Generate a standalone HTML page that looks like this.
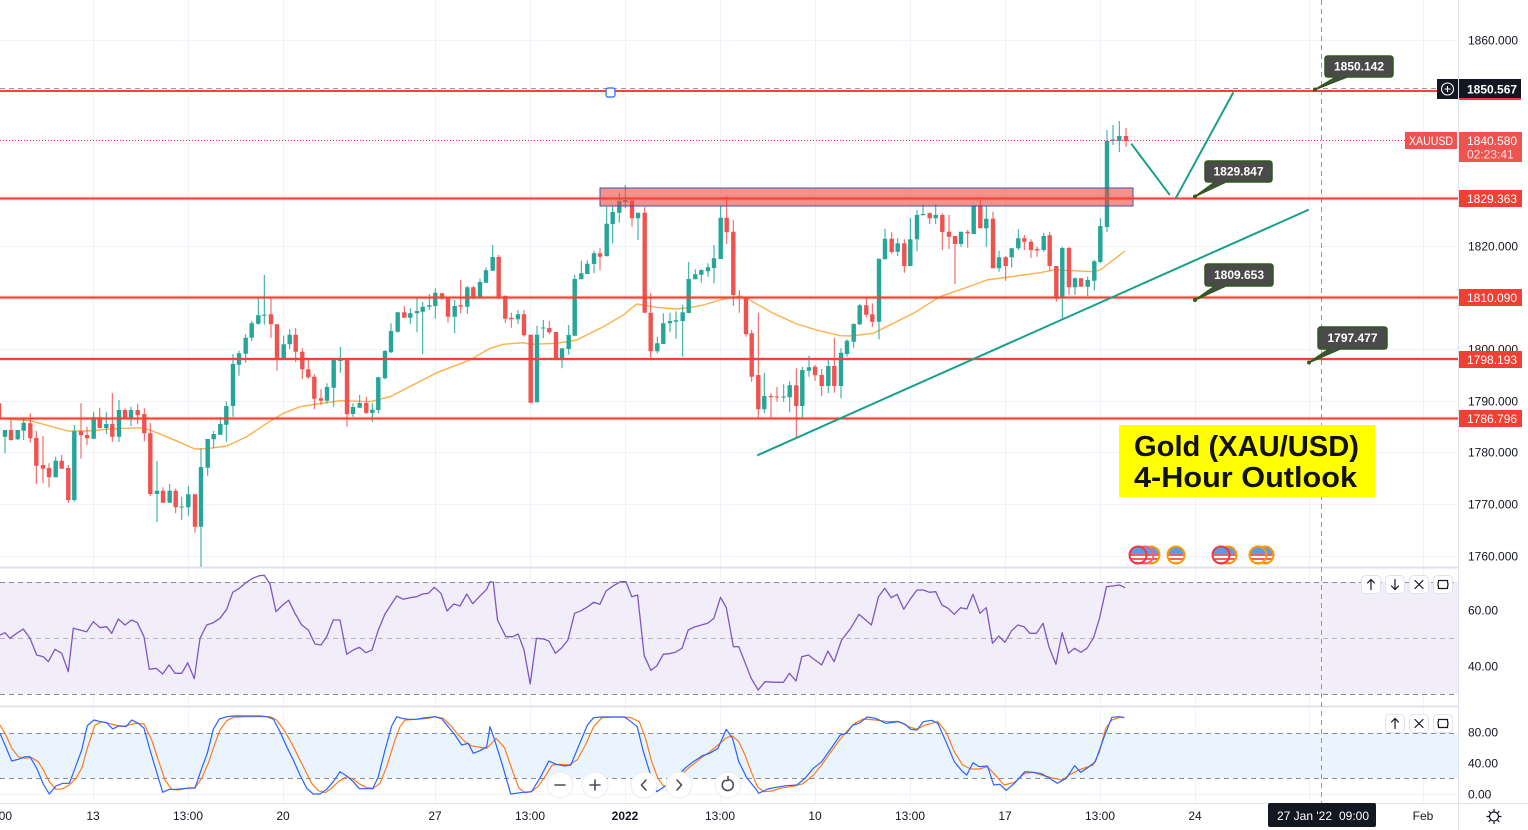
<!DOCTYPE html>
<html><head><meta charset="utf-8"><style>
html,body{margin:0;padding:0;background:#fff;}
svg{display:block;font-family:"Liberation Sans",Arial,sans-serif;}
</style></head><body>
<svg width="1528" height="830" viewBox="0 0 1528 830" xmlns="http://www.w3.org/2000/svg">
<defs>
<clipPath id="fc"><circle cx="0" cy="0" r="8"/></clipPath>
<g id="fl"><g clip-path="url(#fc)"><rect x="-9" y="-9" width="18" height="18" fill="#fff"/><rect x="-9" y="-5" width="18" height="2" fill="#f0645a"/><rect x="-9" y="-1" width="18" height="2" fill="#f0645a"/><rect x="-9" y="3" width="18" height="2" fill="#f0645a"/><rect x="-9" y="7" width="18" height="2" fill="#f0645a"/><rect x="-9" y="-9" width="18" height="8" fill="#5a9be6"/></g></g>
</defs>
<rect width="1528" height="830" fill="#fff"/>
<!-- grid -->
<g stroke="#f0f3fa" stroke-width="1">
<path d="M0 40.5H1458M0 91.5H1458M0 143.5H1458M0 195.5H1458M0 246.5H1458M0 298.5H1458M0 349.5H1458M0 401.5H1458M0 452.5H1458M0 504.5H1458M0 556.5H1458M0 610.5H1458M0 666.5H1458M0 763.5H1458M0 794.5H1458"/>
<path d="M93.5 0V803M188.5 0V803M283.5 0V803M435.5 0V803M530.5 0V803M625.5 0V803M720.5 0V803M815.5 0V803M910.5 0V803M1005.5 0V803M1100.5 0V803M1195.5 0V803M1309.5 0V803M1423.5 0V803"/>
</g>
<!-- RSI panel -->
<rect x="0" y="582" width="1458" height="112" fill="#f2eef9"/>
<g stroke="#8a8d96" stroke-width="1" stroke-dasharray="5 4" fill="none">
<path d="M0 582.5H1458M0 694.5H1458"/>
<path d="M0 638.5H1458" stroke="#b4b6bd"/>
</g>
<polyline fill="none" stroke="#7e57c2" stroke-width="1.3" stroke-linejoin="round" points="0,635 5,632.7 10,638.3 16.7,633.3 23.3,629 30,638.3 36.7,655 43.3,656.7 48.3,661.7 55,649.3 61.7,653.3 68.3,671.7 73.3,628.3 80,630 86.7,631.7 93.3,621.7 100,627.7 106.7,626.7 111.7,633.3 118.3,619 125,625 131.7,620 137.3,622.7 144,636.7 149.3,669.3 156,668.3 162.7,674 169,665 175,673.3 181.7,673.3 187.7,662.7 194.3,678.7 200,638.3 206.7,625 213.3,622.7 220,618.3 226.7,609.3 232.7,592.3 239.3,588.3 246,582.7 252.7,578.3 259.3,575.7 264.3,575.3 270,584 276,611.7 282.7,605 288.7,600.3 295,613.3 301.7,625 308.3,630 315,644 321,645 326.7,636.7 333.3,620 340,620 346.7,654.3 353.3,650 359.3,647.3 366,652.7 372,650 378.3,630 385,614 396.7,596 403.3,599.3 410,597.7 416.7,596.7 422.7,594 428.3,593.3 434.3,587.3 441,593.3 447,611 453.7,604 460,606 466.7,594 472.7,603.7 479.3,596.7 486.7,589.3 490,581.7 493.3,582.3 497.5,620 505.8,636.7 512.8,636.7 518.2,634 524,650 530.2,684 536.4,638.3 543.9,639 548.9,641 555.5,653.3 561.3,648.3 567.9,640 574.6,613.3 581.2,610.7 587.8,606.7 593.6,602.3 599.9,604.3 606.1,591 613.5,585.7 620.6,581.7 626,581.7 631.8,596.7 637.6,595 644.2,655.7 650.9,670.3 656.7,666 663.3,654.3 669.1,653.7 675.3,652.3 682,648.3 688.2,630 694.4,627 701.4,625 707.7,623.3 713.9,618.3 720.5,597.3 726.3,607.7 733.4,646.7 738.8,646.7 751.2,678.3 758.2,690 764.9,681.7 776.1,682.3 783.5,682.3 789.3,673.3 796,681 801.8,656.7 808.4,655 821.7,665 827.9,651 834.1,661.7 841.6,640 850.7,628.3 859,614.3 871.4,625 878.5,596.7 884.7,588.3 891.3,597.7 897.1,594.3 903.8,609.3 910.8,598.3 917,590 923.3,590 929.5,592.3 935.7,591.7 941.9,605 948.1,608.3 954.3,614.3 960.6,607.7 966.8,609 973,594.3 980,613.3 986.3,607.7 992.5,643.3 998.7,636 1004.9,642.3 1011.6,630.7 1017.8,625 1024,626.7 1029.8,633.3 1036.4,633.3 1043.1,623.3 1048.9,646.7 1055.9,664.3 1062.1,632.7 1068.4,653.3 1074.6,648.3 1080.8,652.3 1087,648.3 1093.6,637.7 1099.5,618.3 1106.5,586.7 1112.7,586 1119.4,585 1125.2,587.7"/>
<!-- Stoch panel -->
<rect x="0" y="733" width="1458" height="45" fill="#e9f4fe"/>
<path d="M0 733.5H1458M0 778.5H1458" stroke="#8a8d96" stroke-width="1" stroke-dasharray="5 4" fill="none"/>
<polyline fill="none" stroke="#ff7a1a" stroke-width="1.2" stroke-linejoin="round" points="0,725 5,733.3 11.7,748.3 18.3,756.7 25,758.3 31.7,757.7 38.3,761.7 43.3,770 49.3,781.7 56,789.3 62.7,788.7 69.3,785 76,778.3 81.7,768.3 87.3,748.3 95,725 101.7,721.7 108.3,723.3 115,725 121.7,726.7 128.3,725.3 135,723.3 144,724 151.7,740 158.3,760 165,780 171.7,789.3 178.3,790 186.7,788.3 195,788 201.7,778.3 208.3,763.3 215,743.3 220,730 226.7,720.7 233.3,717.3 246.7,716.7 260,716.7 270,716.7 276.7,720 285,731.7 291.7,743.3 298.3,756.7 305,770 311.7,783.3 318.3,790.7 325,792.7 331.7,788.3 338.3,781.7 346.7,776.7 353.3,779.3 360,784.3 366.7,787.7 373.3,788.3 380,783.3 386.7,766.7 395,740 400,726.7 405,720 416.7,719.3 428.3,718.3 435,716.7 443.3,718.3 451.7,726.7 458.3,735 465,741.7 471.7,746 480,747.3 486.7,748.3 490,745 496.2,738.3 504.5,747.7 512.8,771.7 519,788.3 525.2,792.7 531.5,791.7 537.7,786.7 543.9,778.3 552.2,765 560.5,764.3 568.8,765 577.1,760 585.4,745 593.6,726.7 601.9,717.7 614.4,717 622.7,717 631,717.7 639.3,721.7 645.5,738.3 651.7,761.7 657.9,778.3 664.1,786.7 672.4,780 680.7,775 689,767.7 699.4,759.3 707.7,753.3 718,745 726.3,737.7 732.5,736 738.8,741.7 745,755 751.2,771.7 757.4,786.7 763.6,791.7 771.9,791 780.2,788.3 792.7,786.3 803,783.7 813.4,775 821.7,765 830,753.3 838.3,741.7 846.5,731.7 854.8,723.3 863.1,719 875.6,720 888,721.7 898.4,721.3 908.7,726.7 917,729.3 925.3,725 937.8,721.7 946,731.7 954.3,751.7 962.6,765 970.9,769 979.2,769 987.5,766.7 993.7,773.3 1004.1,785 1014.5,782.3 1024.8,773.3 1033.1,772.3 1043.5,775.7 1053.8,778.3 1062.1,780 1070.4,774.3 1078.7,770 1093.2,765 1099.5,751.7 1105.7,728.3 1111.9,720 1120.2,717.3 1124.3,717.3"/>
<polyline fill="none" stroke="#2962ff" stroke-width="1.2" stroke-linejoin="round" points="0,733.3 5,745 11.7,761 18.3,759.3 25,756.7 30,756.7 36.7,768.3 43.3,784 49.3,794 56,786 62.7,783.3 69.3,783.3 75,768.3 81.7,750 87.3,725.7 94,720 100.7,721.7 106.7,722.7 112.7,729 119.3,725.7 126,726.7 131.7,720 138.3,723.3 144,728.3 150,750 156,770 162.7,792.3 169.3,789.3 176,789.3 182.7,788.7 189.3,788 195,788 201.7,768.3 207.3,753.3 213.3,729.3 219.3,719 226.7,716.7 233.3,716 246.7,716 260,716 266.7,716.7 273.3,719 280,731.7 286.7,746.7 293.3,760 300,775 306.7,788.3 313.3,794 320,794 326.7,789.3 333.3,781.7 340,771.7 346.7,776 353.3,781.7 359.3,788.7 366,788.7 372.7,788.7 378.3,776.7 385,750 391.7,726 396.7,716.7 403.3,718.7 410,719.3 416.7,719.3 423.3,718 430,717.3 435,716.7 441.7,718.7 448.3,726.7 455,735 461.7,745 468.3,743.3 473.3,753.3 480,750.7 486.7,746.7 490,726.7 494.1,738.3 502.4,765 510.7,794 523.2,792.3 531.5,791.7 539.8,778.3 548.9,761 556.3,764.3 564.6,766 570.8,765 579.1,745 587.4,725 593.6,717.7 601.9,717 614.4,717 624.7,717 631,721.7 637.2,726.7 643.4,751.7 649.6,771.7 656.7,791.7 664.1,786.7 672.4,781.7 684.9,768.3 693.2,761.7 702.3,755.7 709.7,753.3 718,748.3 726.3,729.3 732.5,738.3 738.8,761.7 747,778.3 755.3,788.3 758.7,793.3 767.8,789 776.1,787.3 786.4,785.7 796.8,785 805.1,778.3 813.4,768.3 821.7,761.7 830,750 840.3,735 846.5,733.3 852.8,725 859,723.3 867.3,717 875.6,718.3 885.9,723.3 898.4,721.7 904.6,724 910.8,729.3 917,730 923.3,721.7 931.5,720.3 937.8,723.3 946,741.7 954.3,761.7 962.6,771.7 966.8,775 973,762.7 979.2,766.7 987.5,766 993.7,785 999.9,784.3 1006.2,790.3 1014.5,783.3 1024.8,771.7 1033.1,772.3 1041.4,773.7 1049.7,778.3 1057.2,783.3 1066.3,778.3 1074.6,765.7 1080.8,772.3 1087,768.3 1095.3,761.7 1103.6,738.3 1111.9,717.3 1119.4,716.7 1124.3,717.7"/>
<!-- panel separators -->
<path d="M0 567.5H1528M0 706.5H1528" stroke="#e0e3eb" stroke-width="2"/>
<path d="M0 803.5H1528" stroke="#e0e3eb" stroke-width="1"/>
<!-- EMA -->
<polyline fill="none" stroke="#fbb04a" stroke-width="1.4" stroke-linejoin="round" points="0,418.3 30,420.7 68.3,431 86.7,431 110,429 140,427.7 150,430 166.7,436.7 195,449 206.7,448.7 226.7,446 246.7,436.7 266.7,423.3 283.3,413.3 300,406.7 316.7,404 340,400.7 370,401.7 390,396.7 436.7,372.7 470,360 490,348.3 503.3,344.3 523.3,342.7 530,344.3 556.7,343.3 576.7,340 603.3,326.7 623.3,315 636.7,304 656.7,307.3 676.7,309 690,307.7 703.3,305 720,300 740,296 746.7,298.3 773.3,313.3 796.7,324 816.7,330 840,335.7 850,336 873.3,333.3 883.3,328.3 913.3,313.3 940,296.7 973.3,285 986.7,280 1006.7,277.3 1040,272.7 1053.3,270 1073.3,270.7 1093.3,271.7 1100,270 1106.7,265 1125,251"/>
<!-- candles -->
<path fill="none" stroke="#26a69a" stroke-width="1" d="M5 430V453.3M17.7 430V440M23.7 417.3V440M55.7 456.7V477.3M74.3 425V501.7M93.7 411.7V439.3M106.3 412.3V434M119 400V442M131 406.7V426M157 461V522M169.7 484V502.7M181.7 496.7V520M188.3 485.7V515.7M201 448.3V566.7M207.7 439V475.7M213.7 431V448.3M220.3 417V435M226.3 401.3V441.7M233 354V416.7M239 350.7V375.7M245.7 334.3V362.7M251.7 320.7V341M258.3 298.3V324.7M264.3 275V324.7M283.7 335.7V359M289.7 329.3V349M327 383.3V403.3M333.7 358.3V406.7M340.3 346.7V372.7M353 403.3V416.7M359.7 395V407.7M372.3 403.3V421.7M378.3 376.7V413.3M385 350V379.3M391 323.3V353.3M397.7 312.3V332.7M410.3 308.3V324M417 297.3V332.3M422.7 302V354.3M429.3 294V310M435.3 288.3V318.7M454.7 300V333.3M467.3 286V313.7M480 278.7V298.7M486 267.3V282.7M492.7 245V270.7M518 310V324M537 325.7V402.3M543.3 320V338.3M562 348.3V368.3M568.7 325V354.7M574.7 275V336.3M581.3 260.7V279.3M587.3 260V274M594 250.7V273.3M606.7 206.7V256.3M612.7 206.7V243.3M619.3 192.7V222.7M625.3 185V208.3M638 212.7V240M657.3 336.7V353.3M663.3 313.3V344M670 312.7V332.3M676 311.3V338.7M682.7 305V356.7M688.7 261.7V313.3M695.3 269.3V279.3M701.3 269.3V282.7M708 263.3V276.7M714 245V283.3M720.7 205.7V259M764.3 372.7V413.3M783.7 384.3V401.7M789.7 381.3V412.3M802.3 366.7V418.3M809 355.7V376.7M828.3 360V393.3M841 348.3V398.3M847 339.3V356.7M853.7 323.3V347.7M859.7 304V325.3M879 258.7V339.3M885 228.7V259.3M897.7 238.3V256M910.3 217.7V266M917 210V251.3M923 204.3V215.3M935.7 204.3V224.3M961 231.7V246.7M973.7 205.3V234M986.3 206V246.7M999 250.7V271.7M1011.7 248.3V267.3M1018.3 229.3V250M1043.7 232.7V251.7M1062.3 246.7V320M1075 277.3V295M1087.7 276.7V296M1094.3 260V290.7M1100.3 218.3V263.3M1107 130V232M1113 125V145M1119.3 121V152"/>
<path fill="none" stroke="#26a69a" stroke-width="4.4" d="M5 430V436.7M17.7 430V439.3M23.7 422.7V430.7M55.7 460.7V477.3M74.3 431.3V500M93.7 417.3V438.7M106.3 424V428M119 410V436.7M131 410V418.3M157 490.7V494M169.7 490.7V502.7M181.7 506.5V507.5M188.3 494.3V507.3M201 467V526.7M207.7 439V467.7M213.7 434V439.3M220.3 424V434.7M226.3 406V424.7M233 364V406M239 353.3V364.7M245.7 337.7V353.7M251.7 323.3V337.7M258.3 315.3V323.7M264.3 314.7V315.7M283.7 344.3V359M289.7 334.7V344.3M327 387V400.7M333.7 359V387.7M340.3 359.7V361M353 407V414M359.7 403V407.7M372.3 409.7V413M378.3 377.3V410M385 351V378.3M391 331V352.3M397.7 312.3V331.7M410.3 313.3V317.7M417 311V313.3M422.7 306.7V311.7M429.3 305.3V306.7M435.3 292.7V306M454.7 306V316.7M467.3 287.3V306.7M480 282V297.3M486 270.3V282.7M492.7 257V270.7M518 314.3V319.3M537 334.7V402.3M543.3 327.5V328.5M562 348.3V358.3M568.7 335V349M574.7 279V335.7M581.3 273.3V279.3M587.3 263.7V274M594 253.3V264M606.7 223.7V256.3M612.7 212V224M619.3 201V212.7M625.3 200V202M638 212.7V218.3M657.3 343.3V351.3M663.3 323.3V344M670 321V323.3M676 320.3V321.7M682.7 312.3V321M688.7 279V313M695.3 274.3V279.3M701.3 270V274.7M708 267.3V271.3M714 258.3V268M720.7 217.7V259M764.3 396V409.3M783.7 396.5V397.5M789.7 385.3V397.3M802.3 370V406M809 367.3V370.7M828.3 366V386M841 352.7V386M847 340.7V354M853.7 324V341.7M859.7 305.3V324.3M879 258.7V321.7M885 238.7V259.3M897.7 243.3V251.7M910.3 239.3V266M917 215V239.3M923 214V215.3M935.7 215V218.3M961 231.7V244M973.7 205.3V234M986.3 218.7V228.3M999 257.3V268.3M1011.7 248.3V257.3M1018.3 238.3V248.3M1043.7 236V250M1062.3 248V297.3M1075 278.3V287.3M1087.7 280V286.7M1094.3 261.3V280.7M1100.3 226V262M1107 141V227M1113 139.5V141M1119.3 136V141"/>
<path fill="none" stroke="#ef5350" stroke-width="1" d="M11 418.3V440.7M30.3 413.3V442.7M36.3 431V484M43 436V483.3M49 463.3V487.3M61.7 455V468.7M68.3 465V502.7M81 403.3V458.7M87 426.7V445M99.7 407.7V428M112.3 393V441.7M125 408.3V419.3M137.7 403.7V424.3M144.3 408.3V441.3M150.3 422.7V496M163 487.3V502.7M175.7 488.7V513.3M195 494.3V532.7M271 298.3V337.7M277 324.3V370.7M295.7 328V362.3M302.3 348.3V379M308.3 360V379M314.3 374.3V409.3M321 389.3V405M347 359V426.7M366.3 396.7V414M404.3 305.7V317.7M442 292.7V300M448 297.3V322.7M460.7 280V313.3M473.3 286V299.3M498.7 255V299.3M505.3 295.3V322.7M511.3 312.7V327.7M524 310V336.7M530.7 334.7V403.3M549.3 321V334.3M556 332V358.3M600 248.3V270M632 200V226.7M644.7 207.3V312.7M650.7 293.3V357.7M726.7 196V244M733.3 220V306M739.3 290V312.7M746 296.7V336.7M751.7 330V381.7M758.3 312.7V417.3M771 393.3V419.3M777 386.7V401.7M796.3 368.3V438.3M815 365V380.7M821.7 369V396M834.3 337.7V392.7M866.3 297.7V317.3M872.3 303.3V326.7M891.7 232.3V253.7M904.3 239.3V272.7M929.7 212.3V224M942.3 213.3V250M949 215V249M955 236V284M967.7 230V247.7M980.3 199.3V228.3M993 211.7V268.3M1005.7 256V280.7M1024.3 235V250M1031 239.3V257.7M1037 246.7V256.7M1049.7 231.7V270.7M1056.3 266V301.7M1069 246.7V295M1081 278.3V286.7M1126 128V147"/>
<path fill="none" stroke="#ef5350" stroke-width="4.4" d="M-1 403.3V418.3M11 430V440M30.3 423.3V438.3M36.3 438V465.7M43 465V468.7M49 468V477.3M61.7 460.7V468.7M68.3 468V500M81 431.3V435.3M87 435V438.3M99.7 417.3V428M112.3 424V436.7M125 410V418.7M137.7 410V415.3M144.3 414V433.3M150.3 433.3V494M163 490.7V502.7M175.7 490.7V507.3M195 494.3V526.7M271 314.3V324.3M277 324.3V359M295.7 334.7V351.7M302.3 351.7V369.3M308.3 369.3V377.3M314.3 376.7V398.7M321 398.3V400.7M347 359V414.3M366.3 403V413M404.3 312.3V317.7M442 293.3V298.7M448 297.3V316.7M460.7 305.3V306.7M473.3 287.3V298M498.7 257V297.3M505.3 296V318.7M511.3 317.7V319.3M524 314.3V335.3M530.7 334.7V402.7M549.3 328V332.3M556 332V358.3M600 253.3V256.7M632 200.7V218.3M644.7 212.7V312.7M650.7 312.7V351.3M726.7 217.7V232.3M733.3 231.7V295M739.3 296.7V298.3M746 298.3V334.3M751.7 333.3V376.7M758.3 375V409.3M771 396V397.3M777 396.5V397.5M796.3 385.3V406M815 366.7V375.3M821.7 375V386M834.3 366V386M866.3 305.3V314.7M872.3 314.3V321.7M891.7 238.7V252M904.3 243.3V266M929.7 213.3V218.3M942.3 215V232M949 231.7V236.7M955 236V244M967.7 231.7V233.3M980.3 205.3V228.3M993 218.7V268.3M1005.7 257.3V266M1024.3 238.3V241.7M1031 241.7V250M1037 249V250.5M1049.7 235.3V266M1056.3 266V297.3M1069 248V287.3M1081 278.3V286.7M1126 136V141"/>
<!-- red dotted current price line -->
<path d="M0 140.5H1405" stroke="#f23645" stroke-width="1" stroke-dasharray="1 2"/>
<!-- crosshair -->
<path d="M0 88.5H1437" stroke="#9598a1" stroke-width="1" stroke-dasharray="5 4"/>
<path d="M1321.5 0V803" stroke="#9598a1" stroke-width="1" stroke-dasharray="5 4"/>
<!-- zone rectangle -->
<rect x="600" y="188" width="533" height="18" fill="#f04a3f" fill-opacity="0.6" stroke="#3f51b5" stroke-width="1"/>
<!-- red horizontal lines -->
<g stroke="#f44336" stroke-width="2">
<path d="M0 91H1437"/>
<path d="M0 198.5H1458M0 297.5H1458M0 359H1458M0 418.5H1458"/>
</g>
<g stroke="#f44336" stroke-width="4" stroke-opacity="0.18">
<path d="M0 198.5H1458M0 297.5H1458M0 359H1458M0 418.5H1458"/>
</g>
<rect x="606" y="88" width="9" height="9" rx="2" fill="#fff" stroke="#2962ff" stroke-width="1.2"/>
<!-- teal lines -->
<g stroke="#18a08a" stroke-width="2" fill="none" stroke-linecap="round">
<path d="M758 455L1308 210"/>
<path d="M1131.7 144.3L1169.3 194.3"/>
<path d="M1176 197.7L1233 93"/>
</g>
<!-- callouts -->
<g fill="#4a4a4a" stroke="#2e5a1c" stroke-width="1.5">
<path d="M1328 56H1390Q1393 56 1393 59V74Q1393 77 1390 77H1347L1315 89.5L1336 77H1328Q1325 77 1325 74V59Q1325 56 1328 56Z"/>
<path d="M1208 161H1269Q1272 161 1272 164V179Q1272 182 1269 182H1226L1195 196.5L1215 182H1208Q1205 182 1205 179V164Q1205 161 1208 161Z"/>
<path d="M1208 264H1270Q1273 264 1273 267V283Q1273 286 1270 286H1226L1195 300L1215 286H1208Q1205 286 1205 283V267Q1205 264 1208 264Z"/>
<path d="M1321 327H1384Q1387 327 1387 330V346Q1387 349 1384 349H1340L1309 362.5L1329 349H1321Q1318 349 1318 346V330Q1318 327 1321 327Z"/>
</g>
<g fill="#2e5a1c"><circle cx="1315" cy="89.5" r="2"/><circle cx="1195" cy="196.5" r="2"/><circle cx="1195" cy="300" r="2"/><circle cx="1309" cy="362.5" r="2"/></g>
<g fill="#fff" font-size="12" font-weight="bold" text-anchor="middle">
<text x="1359" y="70.5">1850.142</text>
<text x="1238.5" y="175.5">1829.847</text>
<text x="1239" y="279">1809.653</text>
<text x="1352.5" y="342">1797.477</text>
</g>
<!-- title box -->
<rect x="1119" y="425" width="256" height="72" fill="#ffff00"/>
<g font-size="29" font-weight="bold" fill="#111">
<text x="1134" y="456" textLength="225" lengthAdjust="spacingAndGlyphs">Gold (XAU/USD)</text>
<text x="1134" y="487" textLength="223" lengthAdjust="spacingAndGlyphs">4-Hour Outlook</text>
</g>
<!-- flags -->
<g>
<use href="#fl" x="1151" y="555"/><circle cx="1151" cy="555" r="8.5" fill="none" stroke="#ff9800" stroke-width="2"/>
<use href="#fl" x="1145" y="555"/><circle cx="1145" cy="555" r="8.5" fill="none" stroke="#f06478" stroke-width="2"/>
<use href="#fl" x="1138" y="555"/><circle cx="1138" cy="555" r="8.5" fill="none" stroke="#f23645" stroke-width="2"/>
<use href="#fl" x="1176" y="555"/><circle cx="1176" cy="555" r="8.5" fill="none" stroke="#ff9800" stroke-width="2"/>
<use href="#fl" x="1228" y="555"/><circle cx="1228" cy="555" r="8.5" fill="none" stroke="#ff9800" stroke-width="2"/>
<use href="#fl" x="1221" y="555"/><circle cx="1221" cy="555" r="8.5" fill="none" stroke="#f23645" stroke-width="2"/>
<use href="#fl" x="1265" y="555"/><circle cx="1265" cy="555" r="8.5" fill="none" stroke="#ff9800" stroke-width="2"/>
<use href="#fl" x="1258" y="555"/><circle cx="1258" cy="555" r="8.5" fill="none" stroke="#ff9800" stroke-width="2"/>
</g>
<!-- panel buttons -->
<g fill="#fff" stroke="#e0e3eb" stroke-width="1">
<rect x="1361.5" y="575.5" width="19" height="18" rx="4"/><rect x="1385.5" y="575.5" width="19" height="18" rx="4"/><rect x="1409.5" y="575.5" width="19" height="18" rx="4"/><rect x="1433.5" y="575.5" width="19" height="18" rx="4"/>
<rect x="1385.5" y="714.5" width="19" height="18" rx="4"/><rect x="1409.5" y="714.5" width="19" height="18" rx="4"/><rect x="1433.5" y="714.5" width="19" height="18" rx="4"/>
</g>
<g fill="none" stroke="#131722" stroke-width="1.2" stroke-linecap="round">
<path d="M1371 579.5V589.5M1367.5 583L1371 579.5L1374.5 583"/>
<path d="M1395 579.5V589.5M1391.5 586L1395 589.5L1398.5 586"/>
<path d="M1415 580.5L1423 588.5M1423 580.5L1415 588.5"/>
<path d="M1438.5 582V580.5H1447.5V582M1438.5 587V588.5H1447.5V587M1438.5 582Q1437.5 584.5 1438.5 587M1447.5 582Q1448.5 584.5 1447.5 587"/>
<path d="M1395 718.5V728.5M1391.5 722L1395 718.5L1398.5 722"/>
<path d="M1415 719.5L1423 727.5M1423 719.5L1415 727.5"/>
<path d="M1438.5 721V719.5H1447.5V721M1438.5 726V727.5H1447.5V726M1438.5 721Q1437.5 723.5 1438.5 726M1447.5 721Q1448.5 723.5 1447.5 726"/>
</g>
<!-- zoom controls -->
<g fill="#fff" stroke="#ebecef" stroke-width="1">
<circle cx="560" cy="785" r="13"/><circle cx="595" cy="785" r="13"/><circle cx="644" cy="785" r="13"/><circle cx="679" cy="785" r="13"/><circle cx="728" cy="785" r="13"/>
</g>
<g fill="none" stroke="#4a4d57" stroke-width="1.6" stroke-linecap="round">
<path d="M555 785H565"/><path d="M590 785H600M595 780V790"/>
<path d="M646 780L641.5 785L646 790"/><path d="M677 780L681.5 785L677 790"/>
<path d="M724 781A5.5 5.5 0 1 0 728 779.5M728 776.5V780.5H724.5"/>
</g>
<!-- price axis -->
<rect x="1459" y="0" width="69" height="830" fill="#fff"/>
<path d="M1458.5 0V830" stroke="#e0e3eb" stroke-width="1"/>
<path d="M1459 803.5H1528" stroke="#e0e3eb" stroke-width="1"/>
<g font-size="12" fill="#131722">
<text x="1468" y="44.5">1860.000</text>
<text x="1468" y="250.5">1820.000</text>
<text x="1468" y="353.5">1800.000</text>
<text x="1468" y="405.5">1790.000</text>
<text x="1468" y="456.5">1780.000</text>
<text x="1468" y="508.5">1770.000</text>
<text x="1468" y="560.5">1760.000</text>
<text x="1468" y="614.5">60.00</text>
<text x="1468" y="670.5">40.00</text>
<text x="1468" y="736.5">80.00</text>
<text x="1468" y="767.5">40.00</text>
<text x="1468" y="798.5">0.00</text>
</g>
<!-- price tags -->
<rect x="1437" y="79" width="21" height="20" fill="#131722"/>
<circle cx="1447.5" cy="89" r="6" fill="none" stroke="#fff" stroke-width="1.1"/>
<path d="M1447.5 86V92M1444.5 89H1450.5" stroke="#fff" stroke-width="1.1"/>
<rect x="1459" y="79" width="62" height="21" fill="#131722"/>
<rect x="1459" y="98" width="62" height="2" fill="#f23645"/>
<rect x="1405" y="132" width="52" height="17" fill="#ef5350"/>
<rect x="1459" y="132" width="63" height="30" fill="#ef5350"/>
<g fill="#f23f33">
<rect x="1459" y="190" width="63" height="17"/>
<rect x="1459" y="289" width="63" height="17"/>
<rect x="1459" y="351" width="63" height="17"/>
<rect x="1459" y="410" width="63" height="17"/>
</g>
<g font-size="12" fill="#fff">
<text x="1467" y="93.5" font-weight="bold">1850.567</text>
<text x="1409" y="145" textLength="44" lengthAdjust="spacingAndGlyphs">XAUUSD</text>
<text x="1467" y="145">1840.580</text>
<text x="1467" y="158.5" fill="#fde0df">02:23:41</text>
<text x="1467" y="203">1829.363</text>
<text x="1467" y="302">1810.090</text>
<text x="1467" y="364">1798.193</text>
<text x="1467" y="423">1786.796</text>
</g>
<!-- time axis -->
<g font-size="12" fill="#131722" text-anchor="middle">
<text x="12" y="820" text-anchor="end">13:00</text>
<text x="93" y="820">13</text>
<text x="188" y="820">13:00</text>
<text x="283" y="820">20</text>
<text x="435" y="820">27</text>
<text x="530" y="820">13:00</text>
<text x="625" y="820" font-weight="bold">2022</text>
<text x="720" y="820">13:00</text>
<text x="815" y="820">10</text>
<text x="910" y="820">13:00</text>
<text x="1005" y="820">17</text>
<text x="1100" y="820">13:00</text>
<text x="1195" y="820">24</text>
<text x="1423" y="820">Feb</text>
</g>
<rect x="1268" y="803" width="108" height="24" rx="2" fill="#131722"/>
<text x="1277" y="820" font-size="12" fill="#fff">27 Jan '22</text>
<text x="1339" y="820" font-size="12" fill="#fff">09:00</text>
<!-- gear -->
<g fill="none" stroke="#131722" stroke-width="1.2">
<circle cx="1494" cy="816.5" r="4.5"/>
<path d="M1494 809V811.5M1494 821.5V824M1486.5 816.5H1489M1499 816.5H1501.5M1488.7 811.2L1490.5 813M1497.5 820L1499.3 821.8M1499.3 811.2L1497.5 813M1490.5 820L1488.7 821.8"/>
</g>
</svg>
</body></html>
